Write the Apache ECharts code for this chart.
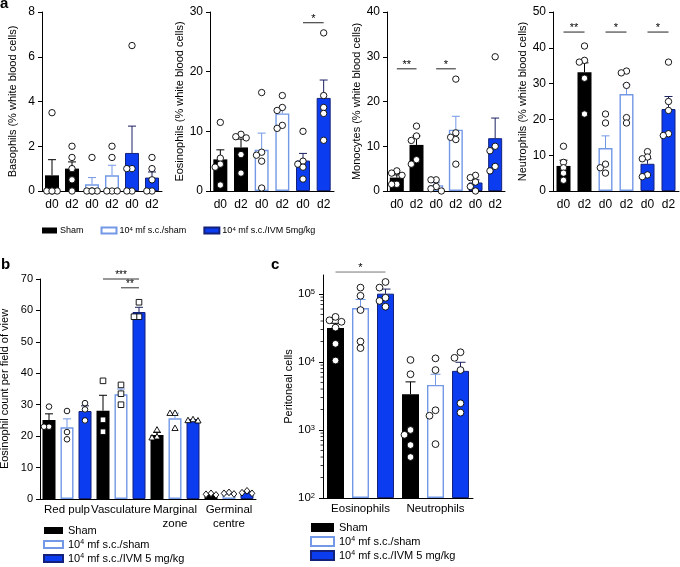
<!DOCTYPE html>
<html><head><meta charset="utf-8">
<script src="https://cdn.jsdelivr.net/npm/echarts@6/dist/echarts.min.js"></script>
<style>html,body{margin:0;padding:0;background:#fff}#c{width:680px;height:567px}</style>
</head><body><div id="c"></div>
<script>
// ================= DATA =================
const groupNames = ['Sham', 'mf s.c./sham', 'mf s.c./IVM 5 mg/kg'];

// ---- panel a ----
const dayLabels = ['d0', 'd2', 'd0', 'd2', 'd0', 'd2'];
const aTitles = ['Basophils (% white blood cells)', 'Eosinophils (% white blood cells)',
                 'Monocytes (% white blood cells)', 'Neutrophils (% white blood cells)'];
const aMax = [8, 30, 40, 50];
const aStep = [2, 10, 10, 10];

const basoMean = [0.7, 1.0, 0.3, 0.7, 1.7, 0.6];
const basoSem  = [0.7, 0.3, 0.3, 0.45, 1.2, 0.25];
const basoPts  = [[3.5, 0, 0, 0, 0], [2, 1.5, 1, 0.5, 0], [1.5, 0, 0, 0, 0], [2, 1.5, 0, 0, 0], [6.5, 1, 1, 0, 0], [1.5, 1, 0.5, 0, 0]];
const basoSig  = [];

const eosMean = [5.3, 7.3, 6.9, 13.0, 5.1, 15.6];
const eosSem  = [1.6, 1.4, 2.8, 1.0, 1.2, 3.0];
const eosPts  = [[11.5, 5.5, 4.5, 4, 1], [9.5, 9.1, 8.9, 6.1, 3], [16.5, 6.5, 6, 5, 0.5], [16, 14, 13.5, 11, 10.5], [10, 5, 4.5, 4, 2], [26.5, 16, 14, 13, 8.5]];
const eosSig  = [[4, 5, 28.2, '*']];

const monoMean = [3.0, 10.3, 1.3, 13.7, 1.9, 11.8];
const monoSem  = [0.6, 2.0, 0.55, 3.0, 0.6, 4.5];
const monoPts  = [[4.5, 4, 3.5, 1.5, 1.5], [14.5, 12.3, 11.3, 7, 6], [2.5, 2.5, 1, 0.5, 0], [25, 13, 12, 11.5, 6], [3.5, 3, 2, 1, 0], [30, 10, 9, 5.5, 4.5]];
const monoSig  = [[0, 1, 27.3, '**'], [2, 3, 27.3, '*']];

const neutMean = [7.0, 33.2, 12.0, 27.1, 7.6, 22.9];
const neutSem  = [1.6, 2.6, 3.4, 2.6, 1.4, 3.5];
const neutPts  = [[12.5, 8, 6.5, 5, 3], [40.5, 36.5, 36, 31.5, 21.5], [21.5, 19, 7.5, 6.5, 5], [33.5, 33, 29.5, 20.5, 19], [11, 9.5, 9, 4.5, 4], [36, 25, 22.5, 16, 15.5]];
const neutSig  = [[0, 1, 44.4, '**'], [2, 3, 44.4, '*'], [4, 5, 44.4, '*']];

// ---- panel b ---- (order: region, then group)
const regionLabels = ['Red pulp', 'Vasculature', 'Marginal\nzone', 'Germinal\ncentre'];
const bTitle = 'Eosinophil count per field of view';
const bMean = [25.1, 22.8, 28.0, 28.1, 33.3, 59.5, 20.4, 25.7, 25.1, 1.5, 1.8, 2.1];
const bSem  = [2.0, 2.7, 1.65, 4.9, 1.7, 1.5, 0.8, 1.6, 0.2, 0.15, 0.15, 0.25];
const bPts  = [[29.4, 23, 23], [28, 21.3, 19], [30.5, 28.5, 25], [37.6, 25.2, 21.4], [36.3, 33.5, 30], [62.6, 58, 58],
               [22, 19.8, 19.5], [27.3, 27.3, 22.5], [25.3, 25, 24.9], [1.8, 1.5, 1.3], [2.1, 1.8, 1.6], [2.6, 2.0, 1.8]];
const bSig  = [[3, 5, 70, '***'], [4, 5, 67.2, '**']];

// ---- panel c ---- (order: cell type, then group)
const cellLabels = ['Eosinophils', 'Neutrophils'];
const cTitle = 'Peritoneal cells';
const cMean = [31500, 62000, 101000, 3350, 4600, 7400];
const cSem  = [5500, 21000, 17000, 1750, 2000, 2500];
const cPts  = [[46000, 41000, 39000, 32000, 18500, 10500], [124000, 94000, 58000, 20000, 16000], [150000, 124000, 88000, 79000, 65000],
               [10700, 6600, 1000, 850, 600, 400], [11300, 7600, 1950, 1620, 620], [13900, 11500, 7600, 2470, 1800]];
const cSig  = [[0, 2, 210000, '*']];
const cTickValues = [100, 1000, 10000, 100000];

// ================= STYLE =================
const FONT = '"Liberation Sans", Arial, Helvetica, sans-serif';
const FILL = ['#000000', '#ffffff', '#0b3cf0'];
const EDGE = ['#000000', '#7398e6', '#14217a'];
const ERRC = ['#000000', '#7398e6', '#1b2060'];

const grids = [], xAxes = [], yAxes = [], series = [];

function line(x1, y1, x2, y2, c, w) {
  return { type: 'line', shape: { x1, y1, x2, y2 }, style: { stroke: c, lineWidth: w || 1 } };
}
function marker(shape, x, y, r) {
  const style = { fill: '#fff', stroke: '#000', lineWidth: 0.9 };
  if (shape === 'square') return { type: 'rect', shape: { x: x - r, y: y - r, width: 2 * r, height: 2 * r }, style };
  if (shape === 'triangle') return { type: 'polygon', shape: { points: [[x, y - r * 1.15], [x + r * 1.1, y + r * 0.8], [x - r * 1.1, y + r * 0.8]] }, style };
  if (shape === 'diamond') return { type: 'polygon', shape: { points: [[x, y - r * 1.2], [x + r, y], [x, y + r * 1.2], [x - r, y]] }, style };
  return { type: 'circle', shape: { cx: x, cy: y, r }, style };
}

function addBars(gi, means, groupOf, barWidth) {
  for (let g = 0; g < 3; g++) {
    series.push({
      type: 'bar', name: groupNames[g], xAxisIndex: gi, yAxisIndex: gi,
      barWidth, barGap: '-100%', clip: true, animation: false,
      itemStyle: { color: FILL[g], borderColor: EDGE[g], borderWidth: g === 0 ? 0 : (g === 1 ? 1.4 : 1) },
      data: means.map((m, i) => (groupOf(i) === g ? m : '-'))
    });
  }
}

function addOverlay(gi, means, sems, pts, groupOf, shapeOf, o) {
  series.push({
    type: 'custom', xAxisIndex: gi, yAxisIndex: gi, z: 10, silent: true, clip: false, animation: false,
    data: means.map((m, i) => [i, m, sems[i]]),
    encode: { x: 0, y: 1 },
    renderItem: function (params, api) {
      const i = api.value(0), m = api.value(1), s = api.value(2);
      const g = groupOf(i);
      const p0 = api.coord([i, m]), p1 = api.coord([i, m + s]);
      const cx = p0[0];
      const ch = [];
      ch.push(line(cx, p0[1], cx, p1[1], ERRC[g]));
      ch.push(line(cx - o.cap, p1[1], cx + o.cap, p1[1], ERRC[g]));
      const placed = [];
      const list = pts[params.dataIndex];
      const shape = shapeOf(i);
      for (const v of list) {
        const y = api.coord([i, v])[1];
        let best = cx, bestScore = -Infinity;
        for (const k of [0, -1, 1, -2, 2]) {
          const dx = k * o.step;
          if (Math.abs(dx) > o.maxDx) continue;
          let minD = Infinity;
          for (const q of placed) minD = Math.min(minD, Math.hypot(q[0] - (cx + dx), q[1] - y));
          if (minD >= o.step * 0.95) { best = cx + dx; bestScore = Infinity; break; }
          if (minD > bestScore) { bestScore = minD; best = cx + dx; }
        }
        placed.push([best, y]);
      }
      for (const q of placed) ch.push(marker(shape, q[0], q[1], o.r));
      return { type: 'group', children: ch };
    }
  });
}

function addSig(gi, sig, color, fs) {
  series.push({
    type: 'custom', xAxisIndex: gi, yAxisIndex: gi, z: 11, silent: true, clip: false, animation: false,
    data: sig.map(s => [s[0], s[1], s[2]]),
    encode: { x: [0, 1], y: 2 },
    renderItem: function (params, api) {
      const a = api.coord([api.value(0), api.value(2)]);
      const b = api.coord([api.value(1), api.value(2)]);
      return { type: 'group', children: [
        line(a[0], a[1], b[0], b[1], color, 1),
        { type: 'text', style: { text: sig[params.dataIndex][3], x: (a[0] + b[0]) / 2, y: a[1] - 4,
          align: 'center', verticalAlign: 'middle', fontSize: fs, fontFamily: FONT, fill: '#000' } }
      ] };
    }
  });
}

// ================= PANEL A =================
const aGrid = [[42, 120], [210, 124], [387, 118], [553, 126]];
const aMeans = [basoMean, eosMean, monoMean, neutMean];
const aSems = [basoSem, eosSem, monoSem, neutSem];
const aPts = [basoPts, eosPts, monoPts, neutPts];
const aSigs = [basoSig, eosSig, monoSig, neutSig];
const aNameGap = [24, 24, 21, 20];
const groupA = i => Math.floor(i / 2);
for (let k = 0; k < 4; k++) {
  grids.push({ left: aGrid[k][0], top: 12, width: aGrid[k][1], height: 179, outerBoundsMode: 'none' });
  xAxes.push({
    type: 'category', gridIndex: k, data: dayLabels.map((d, i) => String(i)),
    axisLine: { lineStyle: { color: '#000', width: 1 } },
    axisTick: { alignWithLabel: true, length: 4, lineStyle: { color: '#000' } },
    axisLabel: { interval: 0, formatter: (v, i) => dayLabels[i], color: '#000', fontSize: 12, fontFamily: FONT, margin: 8 }
  });
  yAxes.push({
    type: 'value', gridIndex: k, min: 0, max: aMax[k], interval: aStep[k],
    name: aTitles[k], nameLocation: 'middle', nameGap: aNameGap[k],
    nameTextStyle: { color: '#000', fontSize: 11, fontFamily: FONT },
    axisLine: { show: true, lineStyle: { color: '#000', width: 1 } },
    axisTick: { show: true, length: 4, lineStyle: { color: '#000' } },
    splitLine: { show: false },
    axisLabel: { color: '#000', fontSize: 12, fontFamily: FONT, margin: 7 }
  });
  addBars(k, aMeans[k], groupA, 14);
  addOverlay(k, aMeans[k], aSems[k], aPts[k], groupA, () => 'circle', { r: 3.2, step: 5.2, maxDx: 6, cap: 4 });
  addSig(k, aSigs[k], '#222', 11);
}

// ================= PANEL B =================
grids.push({ left: 40, top: 279, width: 216, height: 220, outerBoundsMode: 'none' });
xAxes.push({
  type: 'category', gridIndex: 4, data: bMean.map((v, i) => String(i)),
  axisLine: { lineStyle: { color: '#000', width: 1 } },
  axisTick: { show: false },
  axisLabel: { interval: 0, formatter: (v, i) => (i % 3 === 1 ? regionLabels[(i - 1) / 3] : ''),
    color: '#000', fontSize: 11.5, fontFamily: FONT, margin: 4, lineHeight: 14 }
});
yAxes.push({
  type: 'value', gridIndex: 4, min: 0, max: 70, interval: 10,
  name: bTitle, nameLocation: 'middle', nameGap: 30,
  nameTextStyle: { color: '#000', fontSize: 11, fontFamily: FONT },
  axisLine: { show: true, lineStyle: { color: '#000', width: 1 } },
  axisTick: { show: true, length: 4, lineStyle: { color: '#000' } },
  splitLine: { show: false },
  axisLabel: { color: '#000', fontSize: 11, fontFamily: FONT, margin: 7 }
});
const groupB = i => i % 3;
const shapesB = ['circle', 'square', 'triangle', 'diamond'];
addBars(4, bMean, groupB, 13);
addOverlay(4, bMean, bSem, bPts, groupB, i => shapesB[Math.floor(i / 3)], { r: 2.8, step: 5, maxDx: 5, cap: 4 });
addSig(4, bSig, '#333', 10);

// ================= PANEL C =================
grids.push({ left: 323, top: 275, width: 150, height: 223, outerBoundsMode: 'none' });
xAxes.push({
  type: 'category', gridIndex: 5, data: cMean.map((v, i) => String(i)),
  axisLine: { lineStyle: { color: '#000', width: 1 } },
  axisTick: { show: false },
  axisLabel: { interval: 0, formatter: (v, i) => (i % 3 === 1 ? cellLabels[(i - 1) / 3] : ''),
    color: '#000', fontSize: 11.5, fontFamily: FONT, margin: 5 }
});
const logLabel = v => {
  const e = Math.log10(v), r = Math.round(e);
  return Math.abs(e - r) < 1e-6 ? '10{s|' + r + '}' : '';
};
yAxes.push({
  type: 'log', gridIndex: 5, min: 100, max: 190000, startValue: 100,
  name: cTitle, nameLocation: 'middle', nameGap: 26,
  nameTextStyle: { color: '#000', fontSize: 11, fontFamily: FONT },
  axisLine: { show: true, lineStyle: { color: '#000', width: 1 } },
  axisTick: { show: true, length: 4, lineStyle: { color: '#000' }, customValues: cTickValues },
  splitLine: { show: false },
  axisLabel: { color: '#000', fontSize: 11.5, fontFamily: FONT, margin: 8, formatter: logLabel, customValues: cTickValues,
    rich: { s: { fontSize: 7.5, verticalAlign: 'top', fontFamily: FONT, color: '#000' } } }
});
const groupC = i => i % 3;
addBars(5, cMean, groupC, 17);
addOverlay(5, cMean, cSem, cPts, groupC, () => 'circle', { r: 3.4, step: 6, maxDx: 7, cap: 5 });
addSig(5, cSig, '#777', 11);
// minor log ticks on panel c y axis, placed through the axis scale
const cMinor = [];
for (let d = 2; d <= 4; d++) for (let k = 2; k <= 9; k++) cMinor.push(k * Math.pow(10, d));
series.push({
  type: 'custom', xAxisIndex: 5, yAxisIndex: 5, silent: true, clip: false, animation: false, z: 9,
  data: cMinor.map(v => [0, v]), encode: { x: 0, y: 1 },
  renderItem: function (params, api) {
    const y = api.coord([0, api.value(1)])[1];
    const x0 = params.coordSys.x;
    return line(x0 - 2.5, y, x0, y, '#000', 0.8);
  }
});

// ================= LEGENDS =================
const legFmtA = n => (n === 'Sham' ? 'Sham' : '10{s|4} ' + n.replace('5 mg', '5mg'));
const legFmtBC = n => (n === 'Sham' ? 'Sham' : '10{s|4} ' + n);
const legends = [
  { orient: 'horizontal', left: 42, top: 226, padding: 0, itemWidth: 15, itemHeight: 6, itemGap: 17, icon: 'rect',
    data: groupNames, formatter: legFmtA, selectedMode: false,
    textStyle: { fontSize: 9, color: '#000', fontFamily: FONT, padding: [0, 0, 0, -2],
      rich: { s: { fontSize: 6, verticalAlign: 'top', color: '#000', fontFamily: FONT } } } },
  { orient: 'vertical', left: 43, top: 525, height: 60, padding: 0, itemWidth: 19, itemHeight: 7, itemGap: 3, icon: 'rect',
    data: groupNames, formatter: legFmtBC, selectedMode: false,
    textStyle: { fontSize: 11, color: '#000', fontFamily: FONT,
      rich: { s: { fontSize: 7, verticalAlign: 'top', color: '#000', fontFamily: FONT } } } },
  { orient: 'vertical', left: 310, top: 522, height: 60, padding: 0, itemWidth: 23, itemHeight: 9, itemGap: 3, icon: 'rect',
    data: groupNames, formatter: legFmtBC, selectedMode: false,
    textStyle: { fontSize: 11, color: '#000', fontFamily: FONT,
      rich: { s: { fontSize: 7, verticalAlign: 'top', color: '#000', fontFamily: FONT } } } }
];

const chart = echarts.init(document.getElementById('c'), null, { renderer: 'canvas', width: 680, height: 567 });
chart.setOption({
  backgroundColor: '#fff',
  animation: false,
  textStyle: { fontFamily: FONT },
  grid: grids, xAxis: xAxes, yAxis: yAxes, legend: legends, series,
  graphic: [
    { type: 'text', left: 0, top: -4, style: { text: 'a', font: 'bold 15px ' + FONT, fill: '#000' } },
    { type: 'text', left: 1, top: 257, style: { text: 'b', font: 'bold 15px ' + FONT, fill: '#000' } },
    { type: 'text', left: 271, top: 257, style: { text: 'c', font: 'bold 15px ' + FONT, fill: '#000' } }
  ]
});
</script></body></html>
